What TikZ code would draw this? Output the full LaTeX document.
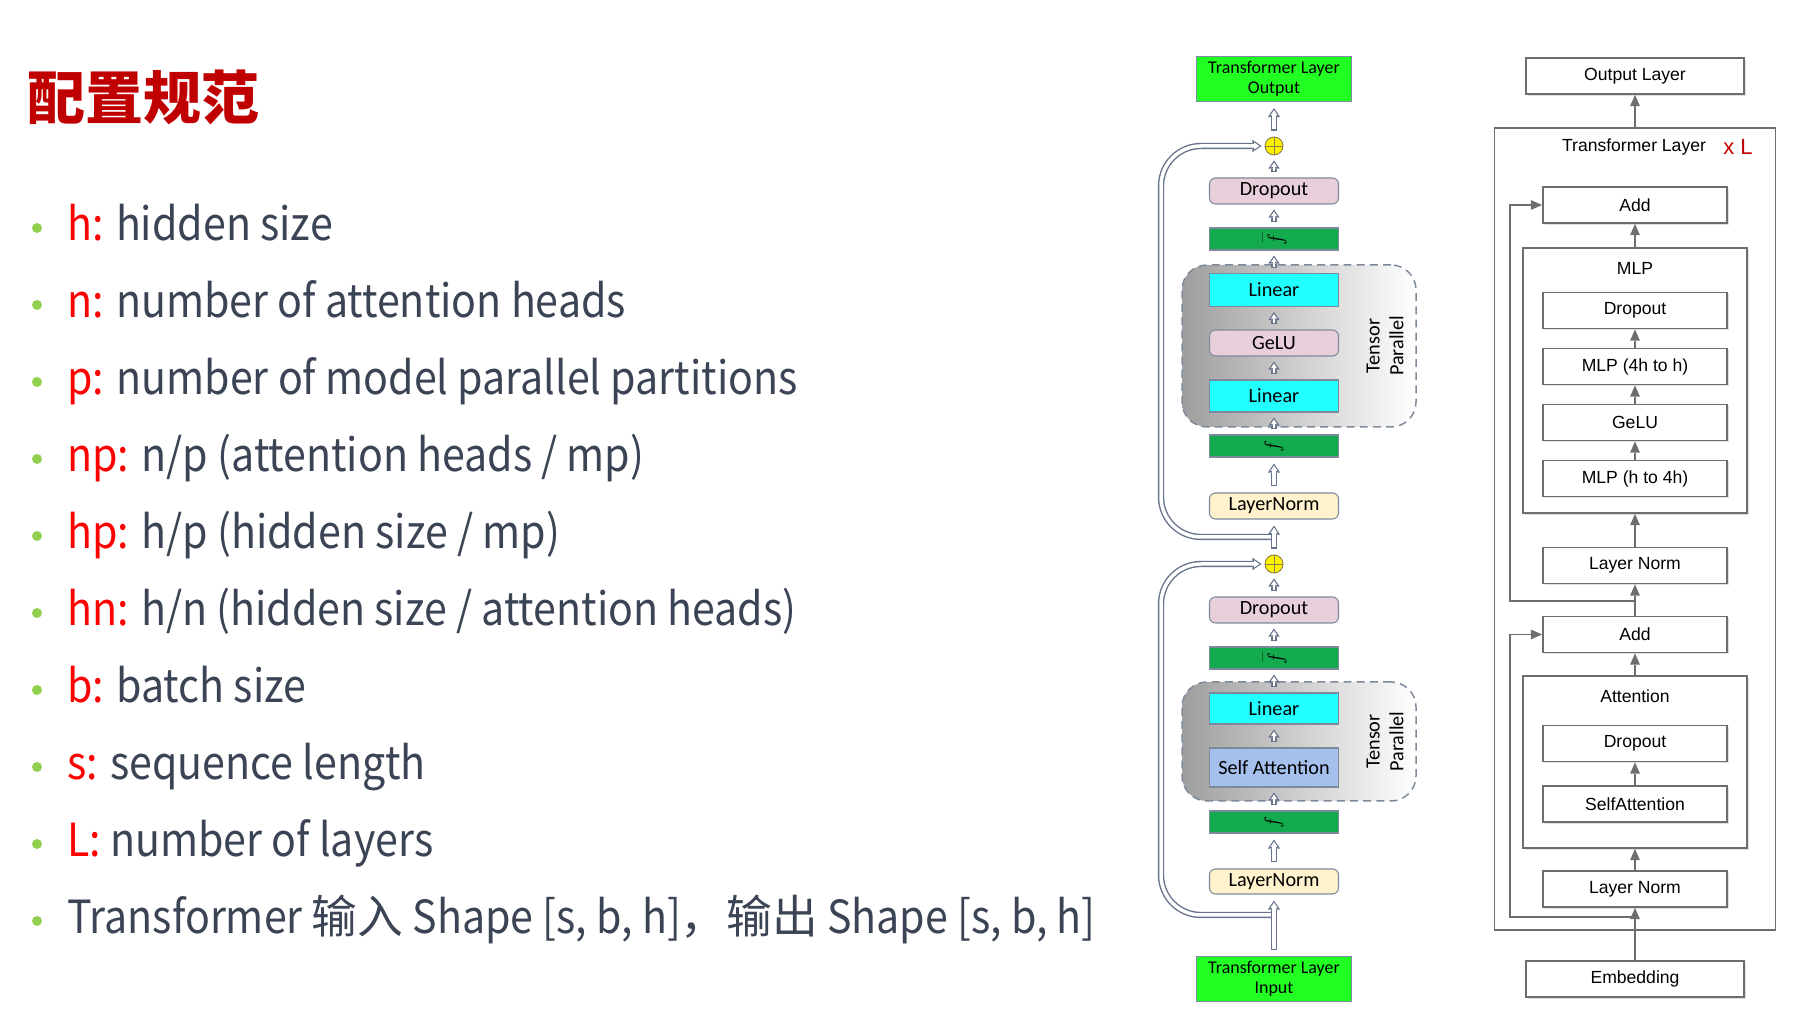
\documentclass[tikz,border=0pt]{standalone}
\usepackage{fontspec}
\setmainfont{Noto Sans CJK SC}[FakeStretch=0.9]
\newfontfamily\cjk{Noto Sans CJK SC}
\newfontfamily\calfont{Carlito}
\newfontfamily\helfont{Liberation Sans}
\usetikzlibrary{arrows.meta,shadows}
\definecolor{titlered}{HTML}{C00000}
\definecolor{keyred}{HTML}{FF0000}
\definecolor{slate}{HTML}{3B4455}
\definecolor{dotgreen}{HTML}{92D050}
\definecolor{iogreen}{HTML}{22FF22}
\definecolor{fgreen}{HTML}{14AA4E}
\definecolor{pinkbox}{HTML}{E8CFDB}
\definecolor{cyanbox}{HTML}{22FFFF}
\definecolor{bluebox}{HTML}{A6C0EE}
\definecolor{normbox}{HTML}{FFF2CC}
\definecolor{edge}{HTML}{7D8A9C}
\definecolor{arrowedge}{HTML}{66738A}
\definecolor{linegray}{HTML}{6E6E6E}
\definecolor{plusedge}{HTML}{8A7D45}

\begin{document}
\begin{tikzpicture}[x=0.2mm, y=0.2mm,
  item/.style={anchor=base west, inner sep=0pt, text=slate, font=\fontsize{26}{30}\selectfont},
  mbox/.style={draw=edge, line width=0.6pt, minimum width=25.8mm, inner sep=0pt, font=\calfont\fontsize{11.5}{13}\selectfont},
  soft/.style={mbox, rounded corners=1.2mm},
  fbox/.style={mbox, fill=fgreen, minimum height=4.4mm},
  io/.style={draw=edge, line width=0.6pt, fill=iogreen, minimum width=31mm, minimum height=9mm, inner sep=0pt, align=center, font=\calfont\fontsize{10.2}{11.5}\selectfont},
  tp/.style={draw=edge, line width=0.85pt, dash pattern=on 4.5pt off 3pt, rounded corners=5mm, left color=black!38, right color=white, minimum width=46.8mm},
  tplabel/.style={rotate=90, align=center, font=\calfont\fontsize{11.5}{13.5}\selectfont},
  plus/.style={circle, draw=plusedge, line width=0.5pt, fill=yellow, minimum size=3.6mm, inner sep=0pt},
  hollow/.style={draw=arrowedge, line width=3.6pt, shorten <=#1, shorten >=#1, -{Triangle[width=7pt,length=5.2pt,line width=0pt]},
    postaction={draw=white, line width=2pt, shorten <=#1+0.75pt, shorten >=#1+1.2pt, -{Triangle[width=4pt,length=3pt,line width=0pt]}}},
  hollow/.default=1.2mm,
  hollows/.style={draw=arrowedge, line width=3pt, shorten <=1mm, shorten >=1mm, -{Triangle[width=6.4pt,length=4.6pt,line width=0pt]},
    postaction={draw=white, line width=1.4pt, shorten <=1mm+0.75pt, shorten >=1mm+1.2pt, -{Triangle[width=3.4pt,length=2.5pt,line width=0pt]}}},
  rbox/.style={draw=linegray, line width=1pt, fill=white, minimum width=36.8mm, minimum height=7.2mm, inner sep=0pt, font=\helfont\fontsize{10}{12}\selectfont, drop shadow={opacity=0.25, shadow xshift=0.3mm, shadow yshift=-0.4mm}},
  rframe/.style={draw=linegray, line width=1pt, fill=white, minimum width=44.8mm, inner sep=0pt, drop shadow={opacity=0.25, shadow xshift=0.3mm, shadow yshift=-0.4mm}},
  rlabel/.style={font=\helfont\fontsize{10}{12}\selectfont},
  garrow/.style={draw=linegray, line width=1pt, -{Triangle[width=5.6pt,length=6.4pt,line width=0pt]}}]
  \useasboundingbox (0,0) rectangle (1800,1018);

  \node[anchor=west, inner sep=0pt, text=titlered, font=\cjk\fontsize{33}{37}\selectfont\bfseries] (title) at (27,921) {配置规范};
  \foreach \y in {777,700,623,546,469,392,315,238,161,84}
    \fill[dotgreen] (37,\y+13) circle (1mm);
  \node[item] (i1)  at (67,777) {\textcolor{keyred}{h:} hidden size};
  \node[item] (i2)  at (67,700) {\textcolor{keyred}{n:} number of attention heads};
  \node[item] (i3)  at (67,623) {\textcolor{keyred}{p:} number of model parallel partitions};
  \node[item] (i4)  at (67,546) {\textcolor{keyred}{np:} n/p (attention heads / mp)};
  \node[item] (i5)  at (67,469) {\textcolor{keyred}{hp:} h/p (hidden size / mp)};
  \node[item] (i6)  at (67,392) {\textcolor{keyred}{hn:} h/n (hidden size / attention heads)};
  \node[item] (i7)  at (67,315) {\textcolor{keyred}{b:} batch size};
  \node[item] (i8)  at (67,238) {\textcolor{keyred}{s:} sequence length};
  \node[item] (i9)  at (67,161) {\textcolor{keyred}{L:} number of layers};
  \node[item] (i10) at (67,84)  {Transformer {\cjk 输入} Shape [s, b, h]{\cjk ，输出} Shape [s, b, h]};

  \node[io] (outT) at (1274,939) {Transformer Layer\\Output};
  \node[plus] (plusT) at (1274,872) {};
  \draw[plusedge, line width=0.5pt] (plusT.north) -- (plusT.south) (plusT.west) -- (plusT.east);
  \node[soft, fill=pinkbox, minimum height=5.2mm] (dropT) at (1274,827) {Dropout};
  \node[fbox] (gT) at (1274,779) {\raisebox{3pt}{\scalebox{0.5}{$|$}}\,\rotatebox{92}{\large$f$}};
  \node[tp, minimum height=32.4mm] (tpT) at (1299,672) {};
  \node[mbox, fill=cyanbox, minimum height=6.6mm] (lin2T) at (1274,728) {Linear};
  \node[soft, fill=pinkbox, minimum height=5.2mm] (geluT) at (1274,675) {GeLU};
  \node[mbox, fill=cyanbox, minimum height=6.4mm] (lin1T) at (1274,622) {Linear};
  \node[tplabel] (tpTl) at (1385,672) {Tensor\\Parallel};
  \node[fbox] (fT) at (1274,572) {\rotatebox{92}{\large$f$}};
  \node[soft, fill=normbox, minimum height=5.2mm] (lnT) at (1274,512) {LayerNorm};

  \node[plus] (plusB) at (1274,454) {};
  \draw[plusedge, line width=0.5pt] (plusB.north) -- (plusB.south) (plusB.west) -- (plusB.east);
  \node[soft, fill=pinkbox, minimum height=5.2mm] (dropB) at (1274,408) {Dropout};
  \node[fbox] (gB) at (1274,360) {\raisebox{3pt}{\scalebox{0.5}{$|$}}\,\rotatebox{92}{\large$f$}};
  \node[tp, minimum height=23.8mm] (tpB) at (1299,276.5) {};
  \node[mbox, fill=cyanbox, minimum height=6.2mm] (linB) at (1274,309.5) {Linear};
  \node[mbox, fill=bluebox, minimum height=7.8mm] (saB) at (1274,250.5) {Self Attention};
  \node[tplabel] (tpBl) at (1385,276.5) {Tensor\\Parallel};
  \node[fbox] (fB) at (1274,196) {\rotatebox{92}{\large$f$}};
  \node[soft, fill=normbox, minimum height=5mm] (lnB) at (1274,136.5) {LayerNorm};
  \node[io] (inB) at (1274,39) {Transformer Layer\\Input};

  \coordinate (brT) at (1274,481);
  \coordinate (brB) at (1274,103);
  \draw[hollow=0pt, rounded corners=8mm] (brT) -- (1161,481) -- (1161,872) -- ([xshift=-0.6mm]plusT.west);
  \draw[hollow=0pt, rounded corners=8mm] (brB) -- (1161,103) -- (1161,454) -- ([xshift=-0.6mm]plusB.west);
  \draw[hollow] (plusT) -- (outT);
  \draw[hollows] (dropT) -- (plusT);
  \draw[hollows] (gT) -- (dropT);
  \draw[hollows] (lin2T) -- (gT);
  \draw[hollows] (geluT) -- (lin2T);
  \draw[hollows] (lin1T) -- (geluT);
  \draw[hollows] (fT) -- (lin1T);
  \draw[hollow] (lnT) -- (fT);
  \draw[hollow] (plusB) -- (lnT);
  \draw[hollows] (dropB) -- (plusB);
  \draw[hollows] (gB) -- (dropB);
  \draw[hollows] (linB) -- (gB);
  \draw[hollows] (saB) -- (linB);
  \draw[hollows] (fB) -- (saB);
  \draw[hollow] (lnB) -- (fB);
  \draw[hollow] (inB) -- (lnB);

  \node[rbox, minimum width=43.6mm] (outL) at (1635,942) {Output Layer};
  \node[draw=linegray, line width=1pt, minimum width=56.2mm, minimum height=160.4mm] (layer) at (1635,489) {};
  \node[rlabel] (layerL) at (1634,871) {Transformer Layer};
  \node[rlabel, text=titlered, font=\helfont\fontsize{12.5}{14}\selectfont] (xL) at (1738,871) {x L};
  \node[rbox] (addT) at (1635,813) {Add};
  \node[rframe, minimum height=53mm] (mlp) at (1635,637.5) {};
  \node[rlabel] (mlpL) at (1635,750) {MLP};
  \node[rbox] (dropM) at (1635,707.5) {Dropout};
  \node[rbox] (m2) at (1635,651.5) {MLP (4h to h)};
  \node[rbox] (geluM) at (1635,595.5) {GeLU};
  \node[rbox] (m1) at (1635,539.5) {MLP (h to 4h)};
  \node[rbox] (lnM) at (1635,452.5) {Layer Norm};
  \node[rbox] (addB) at (1635,383.5) {Add};
  \node[rframe, minimum height=34.4mm] (att) at (1635,256) {};
  \node[rlabel] (attL) at (1635,322) {Attention};
  \node[rbox] (dropA) at (1635,274.5) {Dropout};
  \node[rbox] (saA) at (1635,214) {SelfAttention};
  \node[rbox] (lnA) at (1635,129) {Layer Norm};
  \node[rbox, minimum width=43.6mm] (embL) at (1635,39) {Embedding};

  \coordinate (brL) at (1635,101);
  \coordinate (brM) at (1635,417);
  \draw[garrow] (brL) -- (1510,101) |- (addB.west);
  \draw[garrow] (brM) -- (1510,417) |- (addT.west);
  \draw[garrow] (embL) -- (lnA);
  \draw[garrow] (lnA) -- (att);
  \draw[garrow] (saA) -- (dropA);
  \draw[garrow] (att) -- (addB);
  \draw[garrow] (addB) -- (lnM);
  \draw[garrow] (lnM) -- (mlp);
  \draw[garrow] (m1) -- (geluM);
  \draw[garrow] (geluM) -- (m2);
  \draw[garrow] (m2) -- (dropM);
  \draw[garrow] (mlp) -- (addT);
  \draw[garrow] (layer.north) -- (outL);
\end{tikzpicture}
\end{document}
